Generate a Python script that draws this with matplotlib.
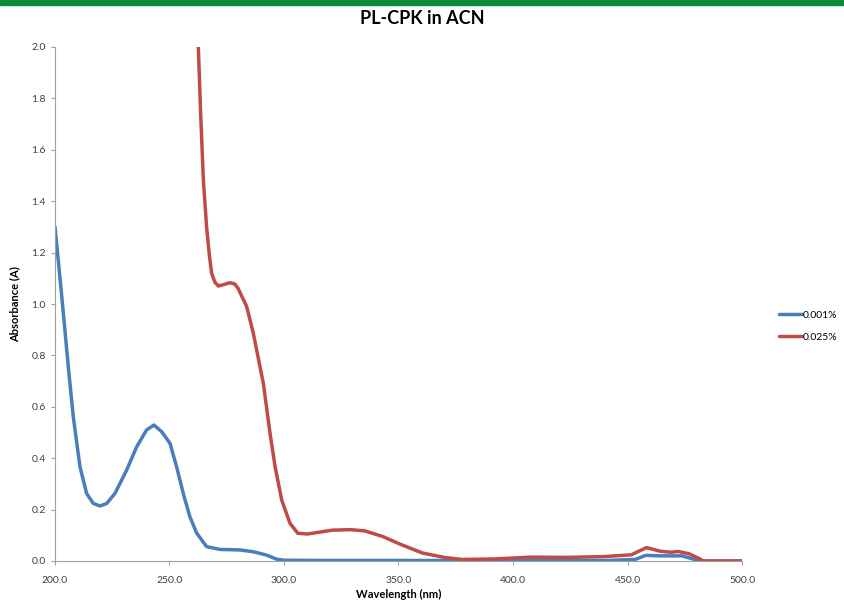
import matplotlib
matplotlib.use("Agg")
import matplotlib.pyplot as plt
from matplotlib.patches import Rectangle

plt.rcParams['font.family'] = ['Lato', 'DejaVu Sans']

# wavelength (nm) / absorbance
wl_001 = [200.0, 203.1, 205.8, 208.0, 210.9, 213.8, 216.7, 219.7, 222.6, 226.2,
          231.3, 235.7, 240.0, 243.2, 246.6, 250.2, 253.1, 256.0, 258.9, 261.9,
          266.2, 272.1, 280.8, 286.6, 292.4, 296.8, 300.0, 320.0, 350.0, 400.0,
          440.0, 453.3, 458.0, 464.3, 473.7, 478.5, 480.8, 490.0, 500.0]
abs_001 = [1.30, 1.016, 0.756, 0.56, 0.367, 0.263, 0.224, 0.214, 0.224, 0.263,
           0.354, 0.445, 0.51, 0.529, 0.503, 0.458, 0.367, 0.263, 0.172, 0.108,
           0.056, 0.045, 0.043, 0.036, 0.023, 0.007, 0.003, 0.002, 0.002, 0.002,
           0.002, 0.006, 0.022, 0.020, 0.020, 0.008, 0.0, 0.0, 0.0]

wl_025 = [262.4, 262.6, 263.6, 264.8, 266.2, 267.4, 268.4, 269.8, 271.3, 273.5,
          276.4, 278.5, 280.0, 283.7, 286.6, 291.0, 293.9, 296.1, 299.0, 302.6,
          306.0, 310.2, 321.2, 329.1, 335.4, 343.2, 351.1, 360.5, 370.0, 377.8,
          392.0, 407.7, 423.4, 439.2, 451.7, 454.9, 458.3, 464.3, 469.0, 472.2,
          476.9, 481.6, 483.2, 500.0]
abs_025 = [2.05, 1.995, 1.742, 1.48, 1.30, 1.19, 1.12, 1.085, 1.07, 1.075,
           1.083, 1.078, 1.06, 0.99, 0.886, 0.69, 0.497, 0.367, 0.237, 0.147,
           0.108, 0.105, 0.12, 0.122, 0.117, 0.095, 0.064, 0.031, 0.014, 0.006,
           0.008, 0.015, 0.014, 0.017, 0.024, 0.038, 0.052, 0.038, 0.034, 0.037,
           0.028, 0.008, 0.0, 0.0]

fig = plt.figure(figsize=(8.44, 6.01), dpi=100)
fig.patches.append(Rectangle((0, 0.992), 1, 0.008, transform=fig.transFigure,
                             color='#0a8c3c', zorder=0))

ax = fig.add_axes([55 / 844, 1 - 561 / 601, 687 / 844, 514 / 601])
ax.plot(wl_001, abs_001, color='#4a7ebb', lw=2.5, label='0.001%',
        solid_joinstyle='round', solid_capstyle='round')
ax.plot(wl_025, abs_025, color='#be4b48', lw=2.5, label='0.025%',
        solid_joinstyle='round', solid_capstyle='round')

ax.set_xlim(200, 500)
ax.set_ylim(0, 2.0)
ax.set_xticks(range(200, 501, 50))
ax.set_xticklabels([f"{v:.1f}" for v in range(200, 501, 50)])
ax.set_yticks([i * 0.2 for i in range(11)])
ax.set_yticklabels([f"{i * 0.2:.1f}" for i in range(11)])
ax.tick_params(labelsize=7.5, colors='#404040', length=3, color='#a0a0a0')
ax.tick_params(axis='x', pad=8)
for s in ['top', 'right']:
    ax.spines[s].set_visible(False)
for s in ['left', 'bottom']:
    ax.spines[s].set_color('#a0a0a0')

ax.set_xlabel('Wavelength (nm)', fontsize=8, fontweight='bold', labelpad=3)
ax.set_ylabel('Absorbance (A)', fontsize=8, fontweight='bold', labelpad=8)
fig.text(0.5, 1 - 18 / 601, 'PL-CPK in ACN', ha='center', va='center',
         fontsize=13, fontweight='bold')

ax.legend(loc='center left', bbox_to_anchor=(1.04, 0.457), frameon=False,
          fontsize=7.5, handlelength=2.2, handletextpad=0.05, labelspacing=1.2)

fig.savefig('out.png', dpi=100)
